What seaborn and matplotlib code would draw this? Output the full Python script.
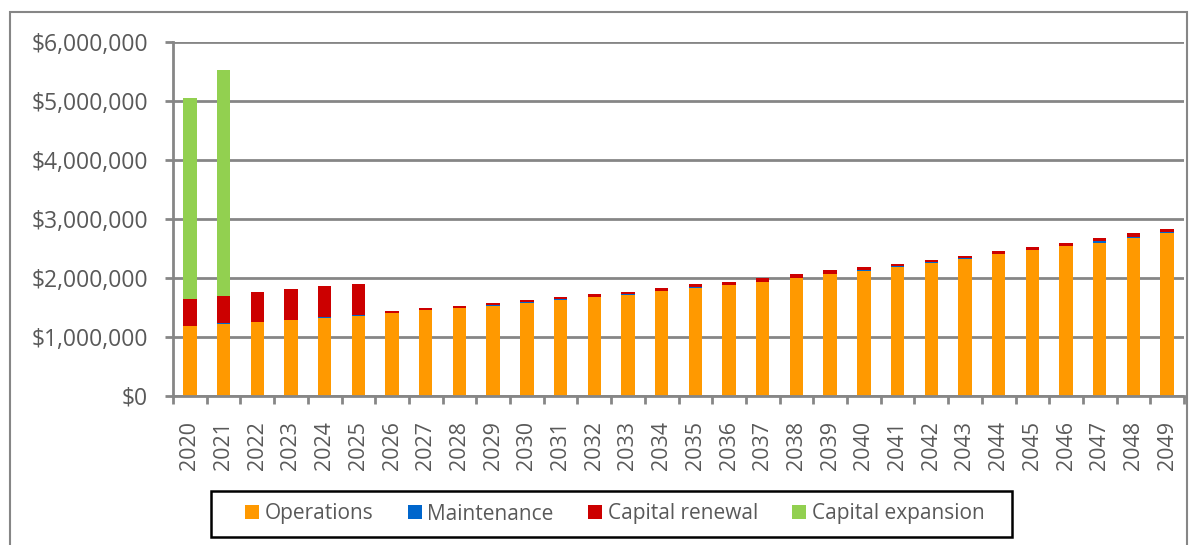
import numpy as np
import pandas as pd
import seaborn as sns
import matplotlib.pyplot as plt
from matplotlib.patches import Patch, Rectangle
from matplotlib.ticker import FuncFormatter, FixedLocator

# values (dollars)
years = [str(y) for y in range(2020, 2050)]
operations = [1180000, 1220000, 1250000, 1280000, 1320000, 1350000, 1410000, 1450000,
              1490000, 1525000, 1580000, 1625000, 1680000, 1720000, 1780000, 1825000,
              1880000, 1935000, 2000000, 2060000, 2120000, 2190000, 2260000, 2330000,
              2400000, 2470000, 2540000, 2600000, 2685000, 2770000]
maintenance = [5000, 10000, 5000, 5000, 15000, 25000, 5000, 5000, 5000, 15000, 5000, 15000,
               5000, 5000, 5000, 20000, 5000, 5000, 5000, 5000, 10000, 5000, 5000, 5000,
               5000, 5000, 5000, 25000, 10000, 15000]
renewal = [465000, 465000, 500000, 530000, 525000, 525000, 25000, 35000, 35000, 35000,
           45000, 40000, 45000, 45000, 45000, 45000, 55000, 60000, 55000, 65000, 55000,
           45000, 35000, 45000, 45000, 45000, 45000, 45000, 60000, 45000]
expansion = [3400000, 3830000] + [0] * 28

series_names = ["Operations", "Maintenance", "Capital renewal", "Capital expansion"]
colors = ["#FF9900", "#0066CC", "#CC0000", "#92D050"]

df = pd.DataFrame({"year": years, "Operations": operations, "Maintenance": maintenance,
                   "Capital renewal": renewal, "Capital expansion": expansion})
cum = df[series_names].cumsum(axis=1)

sns.set_theme(style="white")
plt.rcParams["font.family"] = ["Open Sans", "DejaVu Sans"]
grey = "#868686"
text_grey = "#595959"
W, H = 1202, 545

fig = plt.figure(figsize=(W / 100, H / 100), dpi=100)
ax = fig.add_axes([173 / W, 1 - 396 / H, (1184 - 173) / W, (396 - 42) / H])

# stacked bars: draw cumulative totals from the top layer down
for name, col in reversed(list(zip(series_names, colors))):
    sns.barplot(x=df["year"], y=cum[name], color=col, width=0.4, ax=ax,
                saturation=1, edgecolor="none", linewidth=0)

ax.set_xlim(-0.5, len(years) - 0.5)
ax.set_ylim(0, 6000000)
ax.set_yticks(np.arange(0, 6000001, 1000000))
ax.yaxis.set_major_formatter(FuncFormatter(lambda v, p: f"${v:,.0f}"))
ax.grid(axis="y", color=grey, linewidth=2)
ax.set_axisbelow(True)
ax.set_xlabel("")
ax.set_ylabel("")

for s in ["top", "right"]:
    ax.spines[s].set_visible(False)
for s in ["left", "bottom"]:
    ax.spines[s].set_color(grey)
    ax.spines[s].set_linewidth(2)

ax.tick_params(axis="y", which="major", direction="out", length=6, width=2, color=grey,
               labelsize=16.5, labelcolor=text_grey, pad=12, left=True)
ax.tick_params(axis="x", which="major", length=0, labelsize=15.5, labelcolor=text_grey,
               labelrotation=90, pad=18)
ax.xaxis.set_minor_locator(FixedLocator(np.arange(-0.5, len(years), 1)))
ax.tick_params(axis="x", which="minor", direction="out", length=6, width=2, color=grey,
               bottom=True)

# legend with a separate box drawn around it
handles = [Patch(facecolor=c, edgecolor="none", label=n) for n, c in zip(series_names, colors)]
fig.legend(handles=handles, loc="center", bbox_to_anchor=(615 / W, 1 - 514 / H),
           ncol=4, frameon=False, fontsize=15, handlelength=0.67,
           handleheight=0.67, handletextpad=0.27, columnspacing=1.65,
           labelcolor=text_grey)
fig.patches.append(Rectangle((211 / W, 1 - 537 / H), (1012 - 211) / W, 46 / H,
                             transform=fig.transFigure, fill=False, edgecolor="black",
                             linewidth=1.8))

# outer chart frame
fig.patches.append(Rectangle((10 / W, -0.05), (1187 - 10) / W, 1.05 - 12 / H,
                             transform=fig.transFigure, fill=False, edgecolor=grey,
                             linewidth=1.5))

fig.savefig("out.png", dpi=100)
